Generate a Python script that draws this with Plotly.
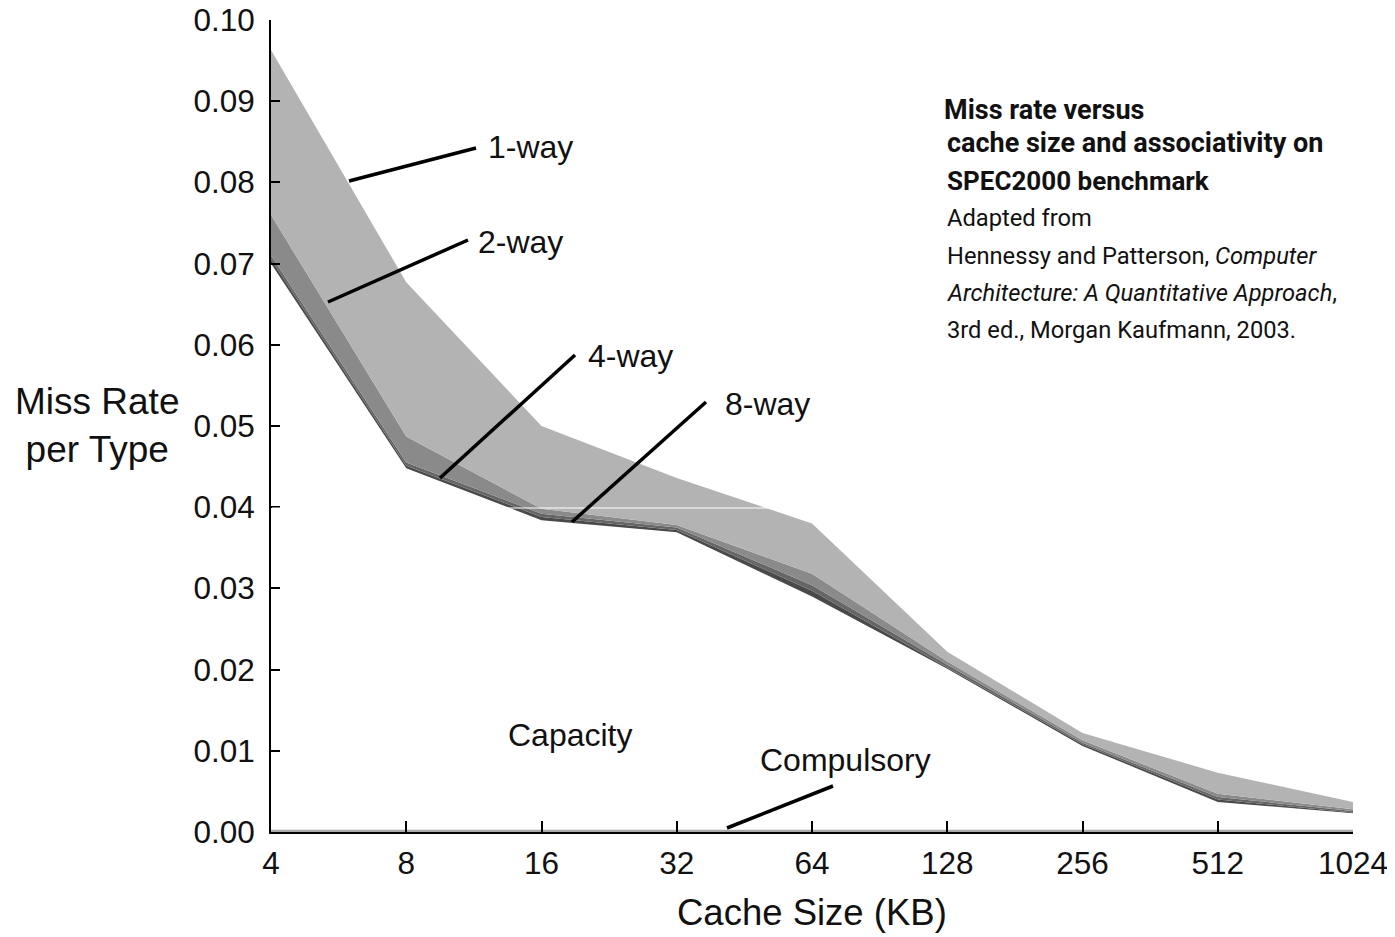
import plotly.graph_objects as go
import math

# ---- data ----
sizes = [4, 8, 16, 32, 64, 128, 256, 512, 1024]
size_labels = ["4", "8", "16", "32", "64", "128", "256", "512", "1024"]
compulsory = [0.0003, 0.0003, 0.0003, 0.0003, 0.0003, 0.0003, 0.0003, 0.0003, 0.0003]
capacity = [0.0700, 0.0448, 0.0384, 0.0369, 0.0290, 0.0201, 0.0106, 0.0037, 0.0023]
eight_way = [0.0705, 0.0451, 0.0388, 0.0372, 0.0297, 0.0203, 0.0108, 0.0040, 0.0024]
four_way = [0.0710, 0.0455, 0.0392, 0.0375, 0.0304, 0.0206, 0.0110, 0.0043, 0.0026]
two_way = [0.0760, 0.0487, 0.0398, 0.0378, 0.0318, 0.0210, 0.0113, 0.0047, 0.0028]
one_way = [0.0963, 0.0677, 0.0500, 0.0436, 0.0380, 0.0222, 0.0122, 0.0073, 0.0037]
y_ticks = [0.00, 0.01, 0.02, 0.03, 0.04, 0.05, 0.06, 0.07, 0.08, 0.09, 0.10]
y_tick_labels = ["0.00", "0.01", "0.02", "0.03", "0.04", "0.05", "0.06", "0.07", "0.08", "0.09", "0.10"]

# page is shown with an 8px body margin; compensate in the figure size
OFF = 8
PAGE_W, PAGE_H = 1395, 937
W, H = PAGE_W - OFF, PAGE_H - OFF
# plot-area edges in page pixels
L, R, T, B = 271, 1353, 20, 832


def px(x):
    return (x - L) / (R - L)


def py(y):
    return (B - y) / (B - T)


FONT = "Liberation Sans, Arial, Helvetica, sans-serif"
NARROW = "Roboto, Liberation Sans, sans-serif"
TXT = "#111111"

layers = [
    ("Compulsory", compulsory, "#a9a9a9", "tozeroy"),
    ("Capacity", capacity, "#ffffff", "tonexty"),
    ("8-way", eight_way, "#4a4a4a", "tonexty"),
    ("4-way", four_way, "#666666", "tonexty"),
    ("2-way", two_way, "#8a8a8a", "tonexty"),
    ("1-way", one_way, "#b3b3b3", "tonexty"),
]

fig = go.Figure()
for name, vals, col, fill in layers:
    fig.add_trace(go.Scatter(
        x=sizes, y=vals, name=name, mode="lines",
        line=dict(width=0, color=col), fill=fill, fillcolor=col,
        hoverinfo="x+y+name", showlegend=False,
    ))

shapes = []
# faint white artifact line across the bands
shapes.append(dict(type="line", xref="paper", yref="paper",
                   x0=px(272), x1=px(1352), y0=py(508), y1=py(508),
                   line=dict(color="#ffffff", width=1)))
pointers = [
    ((349, 181), (476, 148)),
    ((328, 302), (468, 240)),
    ((440, 478), (575, 355)),
    ((572, 522), (706, 402)),
    ((727, 828), (833, 786)),
]
for (x0, y0), (x1, y1) in pointers:
    shapes.append(dict(type="line", xref="paper", yref="paper",
                       x0=px(x0), y0=py(y0), x1=px(x1), y1=py(y1),
                       line=dict(color="#000000", width=3.5)))

annotations = []


def add_text(text, x, y, size, xanchor="left", family=FONT):
    annotations.append(dict(
        text=text, xref="paper", yref="paper", x=px(x), y=py(y),
        xanchor=xanchor, yanchor="middle", showarrow=False,
        font=dict(family=family, size=size, color=TXT), align="center"))


add_text("1-way", 486, 147, 32)
add_text("2-way", 476, 242, 32)
add_text("4-way", 586, 356, 32)
add_text("8-way", 723, 404, 32)
add_text("Capacity", 506, 735, 32)
add_text("Compulsory", 758, 760, 32)
add_text("Cache Size (KB)", 812, 913, 36.5, xanchor="center")
add_text("Miss Rate<br>per Type", 97, 425, 37, xanchor="center")

box = [
    ("<b>Miss rate versus</b>", 942, 110, 27),
    ("<b>cache size and associativity on</b>", 945, 143, 27),
    ("<b>SPEC2000 benchmark</b>", 945, 181, 26),
    ("Adapted from", 945, 218, 23.7),
    ("Hennessy and Patterson, <i>Computer</i>", 945, 256, 23.7),
    ("<i>Architecture: A Quantitative Approach</i>,", 945, 293, 23.7),
    ("3rd ed., Morgan Kaufmann, 2003.", 945, 330, 23.7),
]
for t, x, y, s in box:
    add_text(t, x, y, s, family=NARROW)

fig.update_layout(
    width=W, height=H, autosize=False,
    margin=dict(l=L - OFF, r=PAGE_W - R, t=T - OFF, b=PAGE_H - B, pad=0, autoexpand=False),
    paper_bgcolor="#ffffff", plot_bgcolor="#ffffff",
    shapes=shapes, annotations=annotations,
    showlegend=False,
    xaxis=dict(type="log", range=[math.log10(sizes[0]), math.log10(sizes[-1])],
               tickvals=sizes, ticktext=size_labels,
               ticks="inside", ticklen=11, tickwidth=2, tickcolor="#000000",
               showline=True, linewidth=2, linecolor="#000000",
               showgrid=False, zeroline=False, ticklabelstandoff=2,
               ticklabeloverflow="allow",
               tickfont=dict(family=FONT, size=31.5, color=TXT)),
    yaxis=dict(range=[0, 0.1], tickvals=y_ticks, ticktext=y_tick_labels,
               ticks="inside", ticklen=9, tickwidth=2, tickcolor="#000000",
               showline=True, linewidth=2, linecolor="#000000",
               showgrid=False, zeroline=False, ticklabelstandoff=8,
               ticklabeloverflow="allow",
               tickfont=dict(family=FONT, size=31.5, color=TXT)),
)

fig.write_html("out.html")
